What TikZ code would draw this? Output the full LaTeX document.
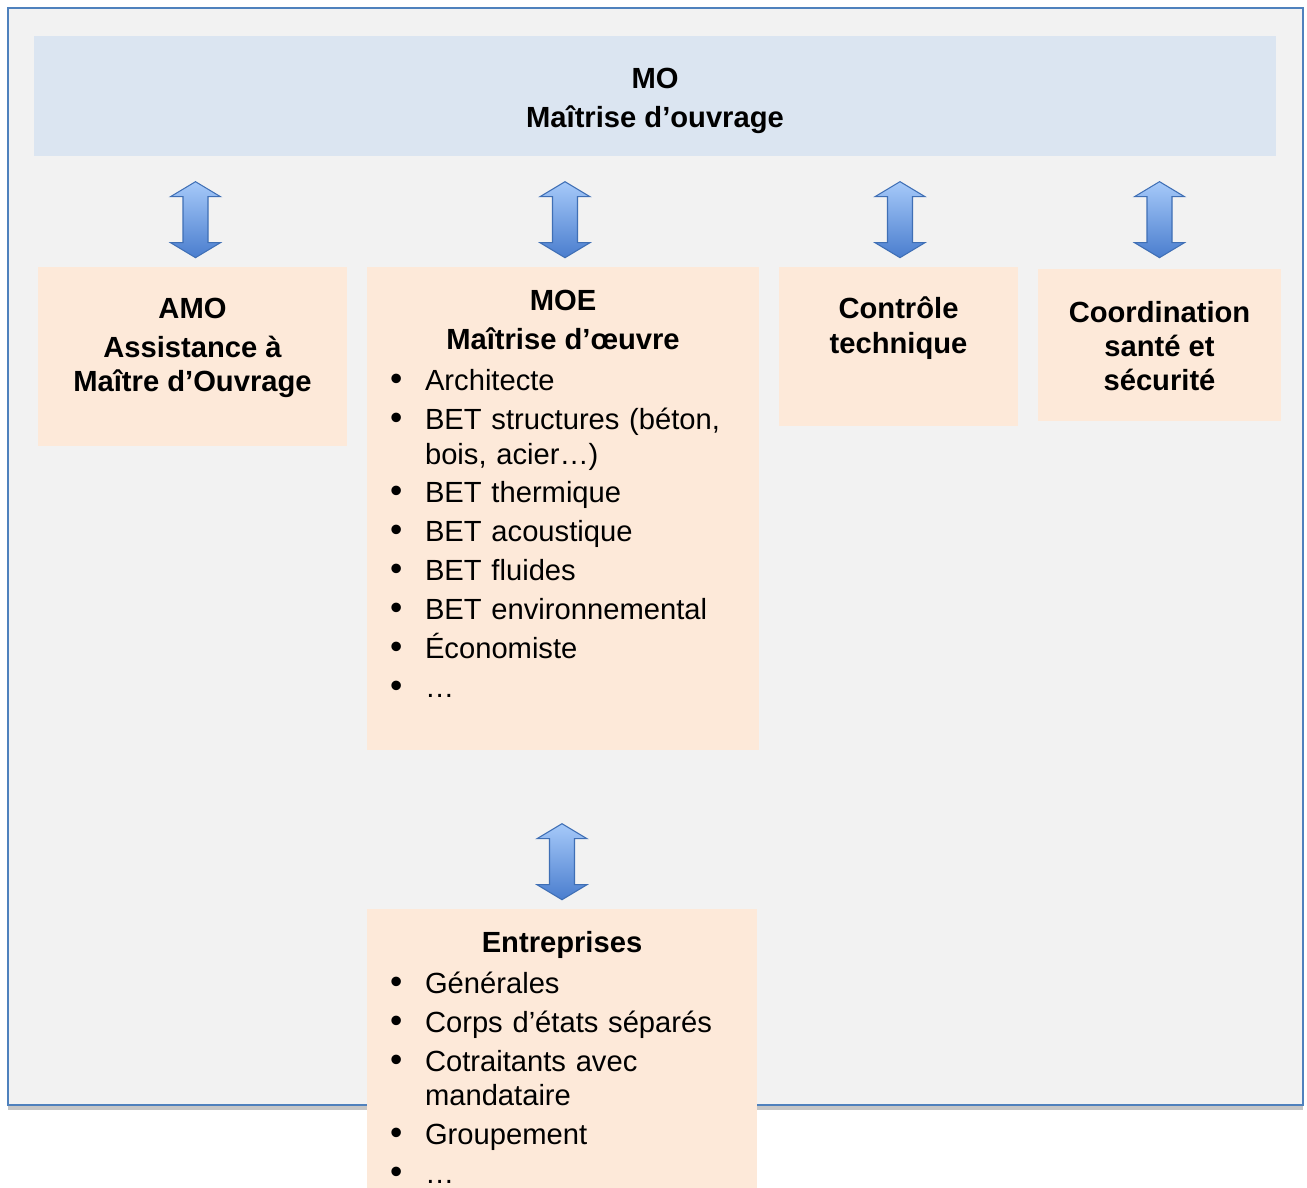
\documentclass[tikz,border=0pt]{standalone}
\usepackage{fontspec}
\setmainfont{Liberation Sans}
\usetikzlibrary{positioning,calc}

\definecolor{cadre}{HTML}{4F81BD}
\definecolor{fond}{HTML}{F2F2F2}
\definecolor{bleuclair}{HTML}{DBE5F1}
\definecolor{rose}{HTML}{FDE9D9}
\definecolor{flechehaut}{HTML}{A6C9F9}
\definecolor{flechebas}{HTML}{4A7DCE}
\definecolor{flechebord}{HTML}{3F6FB5}

\newcommand{\puce}[1]{\par\hangindent=0.7cm\hangafter=1\noindent\makebox[0.7cm][l]{\scalebox{1.2}{\textbullet}}#1}

\tikzset{
  boite/.style={fill=rose, inner sep=0pt},
  titre/.style={font=\fontsize{16.6}{19.56}\selectfont\bfseries, align=center, inner sep=0pt},
  liste/.style={font=\fontsize{16.6}{19.56}\selectfont, text width=7cm, align=left, inner sep=0pt, anchor=north west},
  fleche/.pic={
    \draw[flechebord, line width=0.6pt, top color=flechehaut, bottom color=flechebas]
      (0,-38) -- (25,-23) -- (12.5,-23) -- (12.5,23) -- (25,23) -- (0,38)
      -- (-25,23) -- (-12.5,23) -- (-12.5,-23) -- (-25,-23) -- cycle;
  }
}

\begin{document}
\begin{tikzpicture}[x=0.02cm, y=-0.02cm]
\useasboundingbox (0,0) rectangle (1307,1187);
% cadre
\fill[gray!45] (8,1105) rectangle (1303,1110);
\draw[cadre, line width=1.4pt, fill=fond] (8,8) rectangle (1303,1105);

% MO
\node[fill=bleuclair, inner sep=0pt, minimum width=24.84cm, minimum height=2.4cm] (mo) at (655,96) {};
\node[titre, below=0.64cm of mo.north] (mot) {MO\\[2.55pt]Maîtrise d’ouvrage};

% boites
\node[boite, minimum width=6.18cm, minimum height=3.58cm] (amo) at (192.5,356.5) {};
\node[boite, minimum width=7.84cm, minimum height=9.66cm] (moe) at (563,508.5) {};
\node[boite, minimum width=4.78cm, minimum height=3.18cm] (ctrl) at (898.5,346.5) {};
\node[boite, minimum width=4.86cm, minimum height=3.04cm] (coord) at (1159.5,345) {};
\node[boite, minimum width=7.8cm, minimum height=6.04cm] (entr) at (562,1060) {};

% textes
\node[titre, below=0.62cm of amo.north] (amot) {AMO\\[2.55pt]Assistance à\\Maître d’Ouvrage};
\node[titre, below=0.46cm of moe.north] (moet) {MOE\\[2.55pt]Maîtrise d’œuvre};
\node[liste] (moel) at ($(moe.north west)+(23,85)$) {\setlength{\parskip}{2.55pt}%
  \puce{Architecte}
  \puce{BET structures (béton,\newline bois, acier…)}
  \puce{BET thermique}
  \puce{BET acoustique}
  \puce{BET fluides}
  \puce{BET environnemental}
  \puce{Économiste}
  \puce{…}};
\node[titre, below=0.6cm of ctrl.north] (ctrlt) {Contrôle\\technique};
\node[titre, below=0.64cm of coord.north] (coordt) {Coordination\\santé et\\sécurité};
\node[titre, below=0.44cm of entr.north] (entrt) {Entreprises};
\node[liste] (entrl) at ($(entr.north west)+(23,46)$) {\setlength{\parskip}{2.55pt}%
  \puce{Générales}
  \puce{Corps d’états séparés}
  \puce{Cotraitants avec\newline mandataire}
  \puce{Groupement}
  \puce{…}};

% fleches
\pic at ($(amo.north)+(3,-47)$) {fleche};
\pic at ($(moe.north)+(2,-47)$) {fleche};
\pic at ($(ctrl.north)+(1.5,-47)$) {fleche};
\pic at ($(coord.north)+(0,-49)$) {fleche};
\pic at ($(entr.north)+(0,-47)$) {fleche};
\end{tikzpicture}
\end{document}
